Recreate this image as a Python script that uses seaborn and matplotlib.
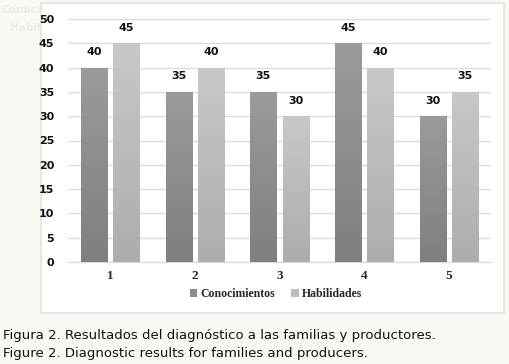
import numpy as np
import pandas as pd
import matplotlib
matplotlib.use("Agg")
import matplotlib.pyplot as plt
import seaborn as sns
from matplotlib.colors import LinearSegmentedColormap
from matplotlib.patches import Rectangle, Patch

# data
grupos = ["1", "2", "3", "4", "5"]
conocimientos = [40, 35, 35, 45, 30]
habilidades = [45, 40, 30, 40, 35]
series = ["Conocimientos", "Habilidades"]

df = pd.DataFrame({
    "grupo": grupos * 2,
    "valor": conocimientos + habilidades,
    "serie": [series[0]] * 5 + [series[1]] * 5,
})

sns.set_style("white")
plt.rcParams["font.family"] = ["DejaVu Sans"]

fig = plt.figure(figsize=(5.10, 3.64), dpi=100)
fig.patch.set_facecolor("#f9f9f3")

# faint leftover text at the left of the chart box
fig.text(1 / 510, 1 - 10 / 364, "Conoci", color="#ecece4", fontsize=7.5,
         fontweight="bold", va="center", zorder=0)
fig.text(10 / 510, 1 - 28 / 364, "Habil", color="#ecece4", fontsize=7.5,
         fontweight="bold", va="center", zorder=0)
fig.patches.append(Rectangle((41 / 510, 1 - 313 / 364), (504 - 41) / 510, (313 - 3) / 364,
                             transform=fig.transFigure, facecolor="white",
                             edgecolor="#e2e2e2", linewidth=1.2, zorder=1))

ax = fig.add_axes([68 / 510, 1 - 262 / 364, (491 - 68) / 510, (262 - 19) / 364])
ax.set_facecolor("none")
ax.set_zorder(2)

colores = {"Conocimientos": "#8c8c8c", "Habilidades": "#bdbdbd"}
sns.barplot(data=df, x="grupo", y="valor", hue="serie", order=grupos,
            palette=colores, width=0.76, gap=0.19, ax=ax, legend=False)

gradientes = {
    "Conocimientos": LinearSegmentedColormap.from_list("c", ["#7f7f7f", "#9b9b9b"]),
    "Habilidades": LinearSegmentedColormap.from_list("h", ["#adadad", "#c8c8c8"]),
}
grad = np.linspace(0, 1, 256).reshape(-1, 1)
for cont, nombre in zip(ax.containers, series):
    for p in cont.patches:
        x0, w, h = p.get_x(), p.get_width(), p.get_height()
        im = ax.imshow(grad, extent=[x0, x0 + w, 0, h], origin="lower", aspect="auto",
                       cmap=gradientes[nombre], zorder=3)
        im.set_clip_path(p)
        p.set_facecolor("none")
        p.set_edgecolor("#d0d0d0")
        p.set_linewidth(0.6)
        ax.text(x0 + w / 2, h + 2.2, f"{int(h)}", ha="center", va="bottom",
                fontsize=8, fontweight="bold", color="#111111", zorder=4)

ax.set_xlim(-0.5, 4.5)
ax.set_ylim(0, 50)
ax.set_yticks(range(0, 51, 5))
ax.yaxis.grid(True, color="#dcdcdc", linewidth=1)
ax.set_axisbelow(True)
for s in ax.spines.values():
    s.set_visible(False)
ax.spines["bottom"].set_visible(True)
ax.spines["bottom"].set_color("#d9d9d9")
ax.tick_params(axis="y", length=0, pad=10, labelsize=8, labelcolor="#111111")
ax.tick_params(axis="x", length=0, pad=6, labelsize=9.5)
for lbl in ax.get_yticklabels():
    lbl.set_fontweight("bold")
for lbl in ax.get_xticklabels():
    lbl.set_fontfamily("Liberation Serif")
    lbl.set_fontweight("bold")
ax.set_xlabel("")
ax.set_ylabel("")

handles = [Patch(facecolor="#8c8c8c", edgecolor="none"),
           Patch(facecolor="#bdbdbd", edgecolor="none")]
fig.legend(handles, series, loc="center", bbox_to_anchor=(276 / 510, 1 - 294 / 364),
           ncol=2, frameon=False, handlelength=0.6, handleheight=0.6,
           handletextpad=0.3, columnspacing=1.4,
           prop={"family": "Liberation Serif", "weight": "bold", "size": 8.5})

fig.text(3 / 510, 1 - 335 / 364, "Figura 2. Resultados del diagnóstico a las familias y productores.",
         fontsize=9.5, va="center", color="#111111")
fig.text(3 / 510, 1 - 353 / 364, "Figure 2. Diagnostic results for families and producers.",
         fontsize=9.5, va="center", color="#111111")

fig.savefig("out.png", dpi=100, facecolor=fig.get_facecolor())
